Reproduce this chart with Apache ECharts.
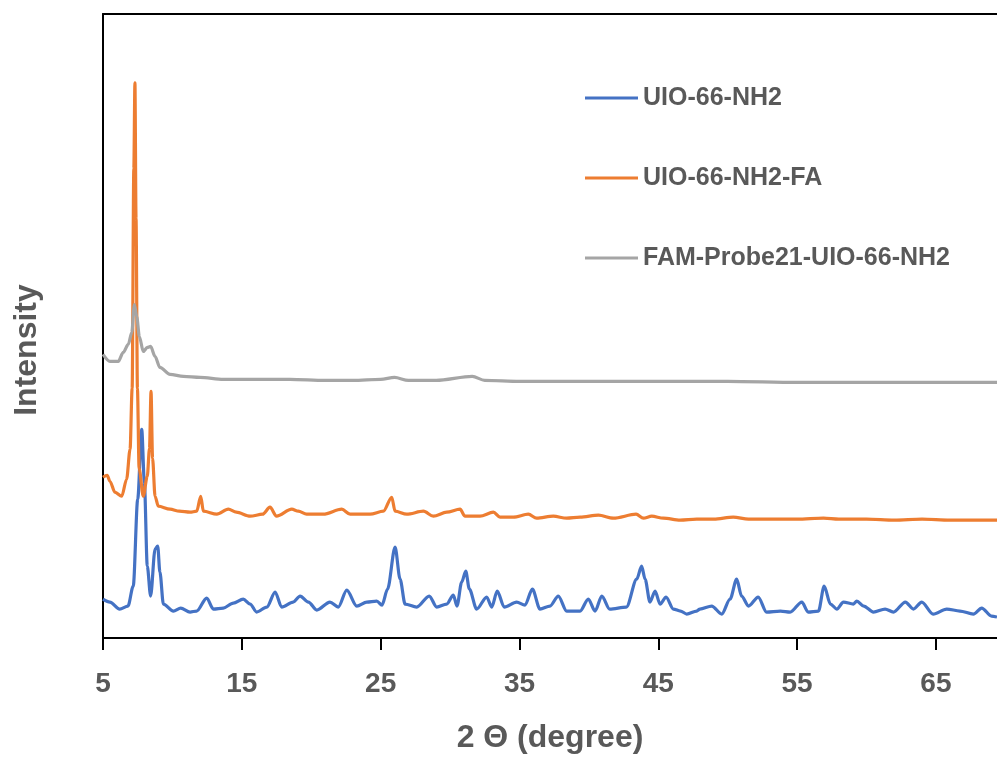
<!DOCTYPE html>
<html>
<head>
<meta charset="utf-8">
<script src="https://cdn.jsdelivr.net/npm/echarts@6/dist/echarts.min.js"></script>
<style>
  html, body { margin: 0; padding: 0; background: #fff; }
  #main { width: 997px; height: 759px; }
</style>
</head>
<body>
<div id="main"></div>
<script>
// 2θ ticks
var tickLabels = [5, 15, 25, 35, 45, 55, 65];
var seriesNames = ['UIO-66-NH2', 'UIO-66-NH2-FA', 'FAM-Probe21-UIO-66-NH2'];

// [2θ, intensity (a.u., offset traces)]
var uioNH2 = [
  [5.0,39],[5.5,36],[6.2,29],[6.8,32],[7.18,52],[7.5,139],[7.79,209],[7.98,156],[8.19,72],[8.43,42],
  [8.75,89],[8.94,92],[9.1,66],[9.35,34],[10.07,27],[10.6,30],[11.27,26],[11.75,27],[12.47,40],[12.95,29],
  [13.67,30],[14.39,35],[15.1,39],[15.6,34],[16.07,26],[16.8,31],[17.4,46],[17.87,31],[18.7,36],[19.2,42],
  [19.8,36],[20.4,28],[21.35,36],[21.95,31],[22.56,48],[23.28,32],[24.0,36],[24.72,37],[25.1,33],[25.5,49],
  [26.04,91],[26.4,59],[26.76,34],[27.6,31],[28.5,42],[29.04,31],[29.76,34],[30.24,43],[30.5,32],[30.84,56],
  [31.13,67],[31.39,49],[31.92,29],[32.64,41],[33.0,31],[33.4,47],[33.9,31],[34.8,36],[35.4,33],[35.93,49],
  [36.48,29],[37.2,32],[37.8,42],[38.4,27],[39.37,27],[39.96,39],[40.45,27],[40.93,42],[41.5,29],[42.7,31],
  [43.45,59],[43.8,72],[44.05,59],[44.4,36],[44.77,47],[45.13,34],[45.56,41],[46.09,29],[46.6,27],[47.05,24],
  [47.77,27],[48.0,29],[48.85,32],[49.57,24],[50.17,39],[50.65,59],[51.0,42],[51.5,32],[52.2,41],[52.8,26],
  [53.8,27],[54.5,26],[55.34,36],[55.8,26],[56.54,27],[56.95,52],[57.4,34],[57.86,29],[58.34,36],[59.06,34],
  [59.3,37],[59.8,32],[60.5,26],[61.34,29],[61.94,26],[62.8,36],[63.38,29],[63.98,36],[64.8,24],[65.78,29],
  [66.73,27],[67.7,24],[68.3,30],[69.0,22],[69.4,21]
];

var uioNH2FA = [
  [5.0,161],[5.3,163],[5.5,157],[5.86,146],[6.35,142],[6.7,159],[6.95,189],[7.1,250],[7.22,470],[7.3,556],
  [7.38,420],[7.48,250],[7.6,170],[7.9,142],[8.19,162],[8.35,190],[8.46,247],[8.57,180],[8.75,142],[8.98,132],
  [9.83,129],[10.5,127],[11.27,126],[11.75,127],[12.04,142],[12.23,127],[13.2,124],[14.03,129],[14.6,126],[15.6,122],
  [16.5,124],[17.03,131],[17.5,122],[18.6,129],[19.07,127],[19.67,124],[20.87,124],[22.2,129],[22.8,124],[24.24,124],
  [25.2,127],[25.8,141],[26.04,127],[26.88,124],[28.08,127],[28.8,122],[29.76,126],[30.72,129],[31.08,122],[32.16,122],
  [33.12,126],[33.6,121],[34.56,121],[35.64,124],[36.24,120],[37.44,122],[38.4,120],[39.37,121],[40.69,123],[41.77,120],
  [43.4,124],[43.93,120],[44.53,122],[45.37,120],[46.57,118],[47.77,119],[49.0,119],[50.4,121],[51.5,119],[53.0,119],
  [55.0,119],[56.9,120],[58.0,119],[60.0,119],[62.0,118],[64.0,119],[66.0,118],[68.0,118],[69.4,118]
];

var famProbe = [
  [5.0,284],[5.5,277],[6.1,277],[6.46,286],[6.82,294],[7.07,306],[7.26,334],[7.43,322],[7.62,302],[7.9,287],
  [8.19,291],[8.43,292],[8.75,282],[9.1,271],[9.83,264],[10.79,262],[11.99,261],[13.67,259],[16.07,259],[18.47,259],
  [21.0,258],[23.0,258],[25.0,259],[26.0,261],[27.0,258],[29.0,258],[31.6,262],[32.5,258],[35.0,257],[40.0,257],
  [45.0,257],[50.0,257],[55.0,256],[60.0,256],[65.0,256],[69.4,256]
];

var colors = ['#4472C4', '#ED7D31', '#A5A5A5'];
var txtColor = '#595959';
var fontFam = '"Liberation Sans", Arial, sans-serif';

var chart = echarts.init(document.getElementById('main'));

function legendFor(name, top) {
  return {
    data: [name],
    left: 580,
    top: top,
    icon: 'rect',
    itemWidth: 53,
    itemHeight: 3,
    textStyle: { fontSize: 25, fontWeight: 'bold', color: txtColor, fontFamily: fontFam, lineHeight: 26 }
  };
}

function lineSeries(name, data) {
  return {
    name: name,
    type: 'line',
    data: data,
    showSymbol: false,
    smooth: 0.3,
    smoothMonotone: 'x',
    lineStyle: { width: 3.2 }
  };
}

var option = {
  animation: false,
  color: colors,
  grid: { left: 103, right: 0, top: 14, bottom: 120 },
  legend: [
    legendFor(seriesNames[0], 80),
    legendFor(seriesNames[1], 160),
    legendFor(seriesNames[2], 240)
  ],
  xAxis: [{
    type: 'value',
    min: 5,
    max: 69.4,
    name: '2 Θ (degree)',
    nameLocation: 'middle',
    nameGap: 84,
    nameTextStyle: { fontSize: 32, fontWeight: 'bold', color: txtColor, fontFamily: fontFam },
    axisLine: { show: true, lineStyle: { color: '#000', width: 2 } },
    axisTick: { show: true, length: 12, customValues: tickLabels, lineStyle: { color: '#000', width: 2 } },
    axisLabel: { customValues: tickLabels, margin: 32, fontSize: 28, fontWeight: 'bold', color: txtColor, fontFamily: fontFam },
    splitLine: { show: false }
  }, {
    type: 'value',
    position: 'top',
    min: 5,
    max: 69.4,
    axisLine: { show: true, onZero: false, lineStyle: { color: '#000', width: 2 } },
    axisTick: { show: false },
    axisLabel: { show: false },
    splitLine: { show: false }
  }],
  yAxis: {
    type: 'value',
    min: 0,
    max: 625,
    axisLine: { show: true, lineStyle: { color: '#000', width: 2 } },
    axisTick: { show: false },
    axisLabel: { show: false },
    splitLine: { show: false }
  },
  graphic: [{
    type: 'text',
    x: 27,
    y: 350,
    rotation: Math.PI / 2,
    style: {
      text: 'Intensity',
      fontSize: 32,
      fontWeight: 'bold',
      fontFamily: fontFam,
      fill: txtColor,
      textAlign: 'center',
      textVerticalAlign: 'middle'
    }
  }],
  series: [
    lineSeries(seriesNames[0], uioNH2),
    lineSeries(seriesNames[1], uioNH2FA),
    lineSeries(seriesNames[2], famProbe)
  ]
};

chart.setOption(option);
</script>
</body>
</html>
